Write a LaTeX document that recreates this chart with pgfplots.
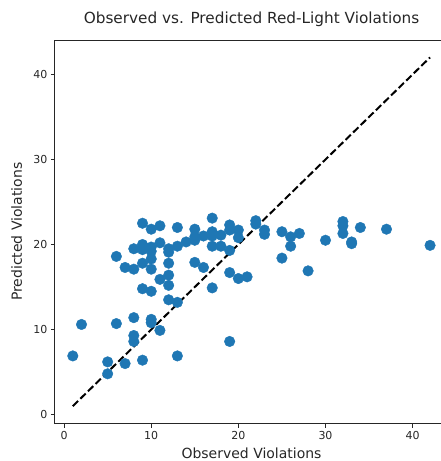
\documentclass[border=0pt]{standalone}
\usepackage{pgfplots}
\pgfplotsset{compat=1.18}
\usepackage{fontspec}
\setmainfont{DejaVu Sans}
\definecolor{mplblue}{HTML}{1F77B4}
\begin{document}
\begin{tikzpicture}
\begin{axis}[
  at={(0,0)}, anchor=south west,
  scale only axis, width=386pt, height=384pt,
  xmin=-1.05, xmax=43.2, ymin=-1.05, ymax=44.05,
  axis x line*=box, axis y line*=left,
  axis line style={black!85, line width=0.9pt},
  xtick={0,10,20,30,40}, ytick={0,10,20,30,40},
  xtick pos=bottom, ytick pos=left,
  tick align=outside, major tick length=4pt,
  every tick/.style={black!85, line width=0.9pt},
  tick label style={font=\fontsize{11}{13}\selectfont, text=black!85},
  /pgf/number format/assume math mode=true,
  clip=true,
]
\addplot[only marks, mark=*, mark size=5.3pt, mplblue, mark options={draw=mplblue, fill=mplblue}] table {
x y
1 6.9
2 10.6
5 6.2
5 4.8
6 10.7
6 18.6
7 6.0
7 17.3
8 17.1
8 19.5
8 11.4
8 9.3
8 8.6
9 22.5
9 20.0
9 19.4
9 17.8
9 14.8
9 6.4
10 21.8
10 19.7
10 19.2
10 18.3
10 17.1
10 14.5
10 11.2
10 10.8
11 22.2
11 20.2
11 15.9
11 9.9
12 19.5
12 19.1
12 17.8
12 16.4
12 15.2
12 13.5
13 22.0
13 19.8
13 13.2
13 6.9
14 20.3
15 21.8
15 20.9
15 20.5
15 17.9
16 21.0
16 17.3
17 23.1
17 21.5
17 21.0
17 19.8
17 14.9
18 21.1
18 19.8
19 22.3
19 21.7
19 19.3
19 16.7
19 8.6
20 21.7
20 20.8
20 16.0
21 16.2
22 22.8
22 22.4
23 21.7
23 21.2
25 21.5
25 18.4
26 20.9
26 19.8
27 21.3
28 16.9
30 20.5
32 22.7
32 22.2
32 21.3
33 20.1
33 20.3
34 22.0
37 21.8
42 19.9
};
\addplot[black, line width=2pt, dash pattern=on 7.4pt off 3.2pt] coordinates {(1,1) (42,42)};
\end{axis}
\node[anchor=base, font=\fontsize{15.3}{18}\selectfont, text=black!85] at (196.8pt,400pt) {Observed vs. Predicted Red-Light Violations};
\node[anchor=base, font=\fontsize{14}{17}\selectfont, text=black!85] at (196.8pt,-35pt) {Observed Violations};
\node[anchor=base, rotate=90, font=\fontsize{14}{17}\selectfont, text=black!85] at (-33pt,192pt) {Predicted Violations};
\pgfresetboundingbox
\path (-55pt,-37.5pt) rectangle (386pt,424pt);
\end{tikzpicture}
\end{document}
